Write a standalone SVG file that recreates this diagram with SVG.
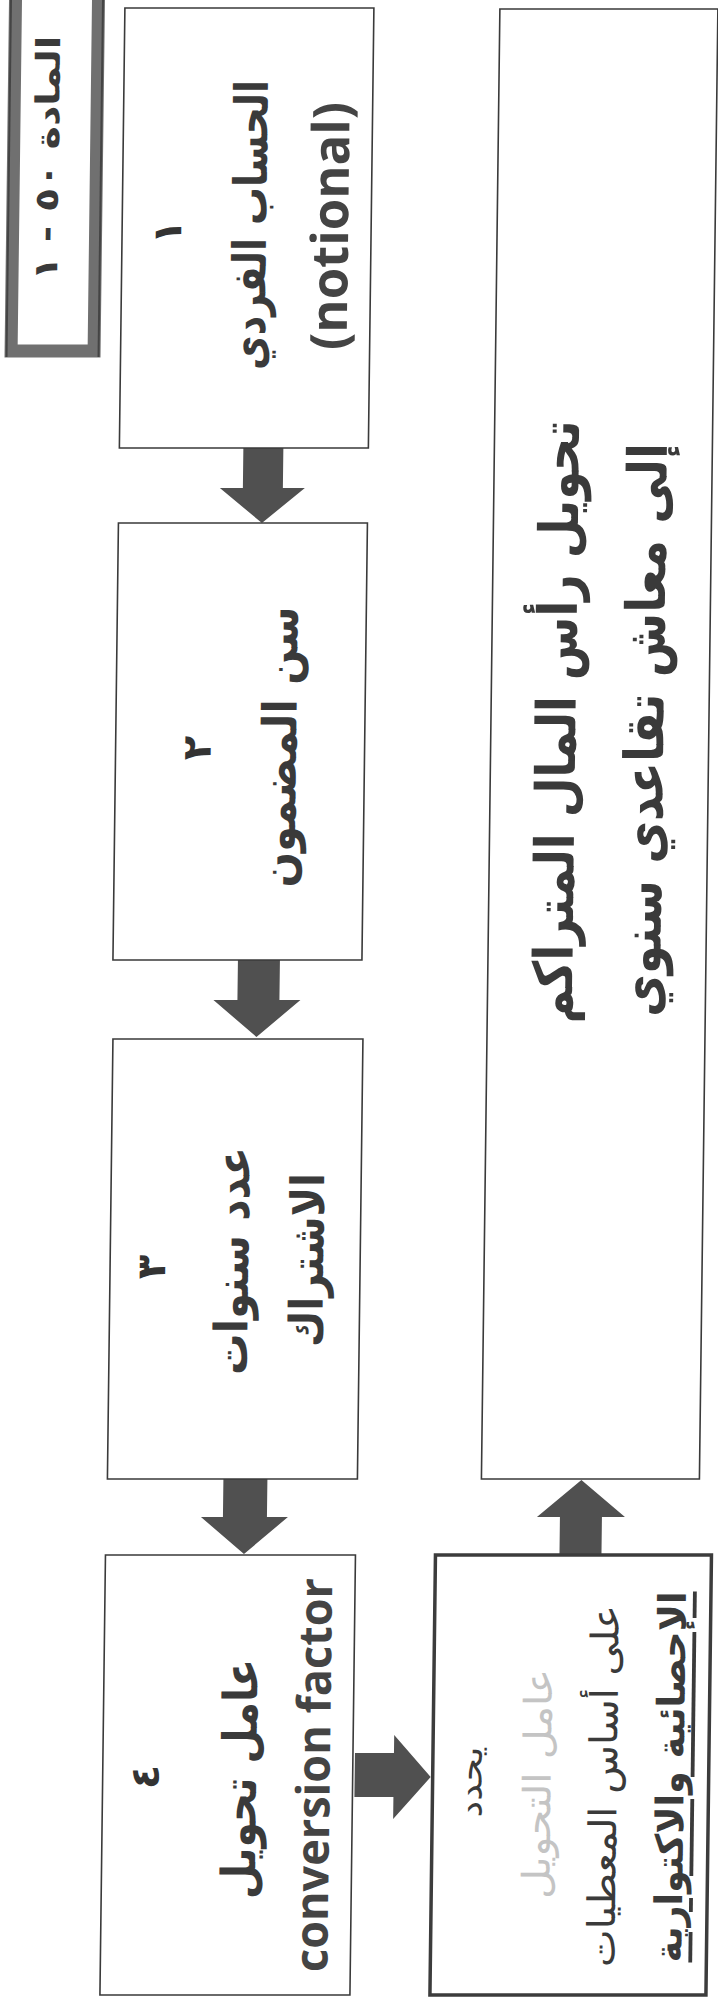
<svg xmlns="http://www.w3.org/2000/svg" width="718" height="2008" viewBox="0 0 718 2008">
  <style>
    .box{fill:#fff;stroke:#3a3a3a;stroke-width:1.6}
    .box5{fill:#fff;stroke:#3c3c3c;stroke-width:3.5}
    .frame{fill:#fff;stroke:#707070;stroke-width:13}
    .arrow{fill:#505050}
    .ar{font-family:"DejaVu Sans",sans-serif;font-weight:bold;fill:#3a3a3a;text-anchor:middle;dominant-baseline:central}
    .num{font-family:"DejaVu Sans",sans-serif;font-weight:bold;fill:#333;text-anchor:middle;dominant-baseline:central}
    .en{font-family:"Open Sans",sans-serif;font-weight:bold;fill:#444;text-anchor:middle;dominant-baseline:central}
    .plain{font-weight:normal}
    .pale{fill:#c4c4c4}
    .ul{text-decoration:underline}
  </style>
  <rect width="718" height="2008" fill="#fff"/>
  <!-- the sheet is laid out sideways: every label reads bottom-to-top -->
  <g transform="skewX(-0.72)">
    <g id="connectors">
      <path class="arrow" d="M249 448 H289 V488 H311 L268.5 523 L226 488 H249 Z"/>
      <path class="arrow" d="M250 960 H292 V1000 H313 L269.5 1037 L226 1000 H250 Z"/>
      <path class="arrow" d="M242 1479 H286 V1517 H307 L263.5 1554 L220 1517 H242 Z"/>
      <path class="arrow" d="M377 1753 H416 V1735 L453 1777 L416 1819 V1797 H377 Z"/>
      <path class="arrow" d="M579 1555 V1517 H556 L600 1480 L644 1517 H621 V1555 Z"/>
    </g>

    <g id="title">
      <rect class="frame" x="15.5" y="-10" width="83" height="361"/>
      <rect x="10" y="-10" width="2" height="367" fill="#444"/>
      <rect x="102" y="-10" width="2" height="367" fill="#444"/>
      <text class="ar" direction="rtl" font-size="33" textLength="245" lengthAdjust="spacingAndGlyphs" transform="translate(49 158) rotate(-90)">المادة ٥٠ - ١</text>
    </g>

    <g id="node1">
      <rect class="box" x="125" y="8" width="249" height="440"/>
      <text class="num" font-size="40" transform="translate(170 232) rotate(-90)">١</text>
      <text class="ar" direction="rtl" font-size="46" textLength="290" lengthAdjust="spacingAndGlyphs" transform="translate(253 225) rotate(-90)">الحساب الفردي</text>
      <text class="en" font-size="51" textLength="248" lengthAdjust="spacingAndGlyphs" transform="translate(331 226) rotate(-90)">(notional)</text>
    </g>

    <g id="node2">
      <rect class="box" x="125" y="523" width="249" height="437"/>
      <text class="num" font-size="40" transform="translate(206 748) rotate(-90)">٢</text>
      <text class="ar" direction="rtl" font-size="47" textLength="281" lengthAdjust="spacingAndGlyphs" transform="translate(289 747) rotate(-90)">سن المضمون</text>
    </g>

    <g id="node3">
      <rect class="box" x="126" y="1039" width="250" height="440"/>
      <text class="num" font-size="40" transform="translate(167 1267) rotate(-90)">٣</text>
      <text class="ar" direction="rtl" font-size="46" textLength="228" lengthAdjust="spacingAndGlyphs" transform="translate(248 1261) rotate(-90)">عدد سنوات</text>
      <text class="ar" direction="rtl" font-size="46" textLength="174" lengthAdjust="spacingAndGlyphs" transform="translate(323 1260) rotate(-90)">الاشتراك</text>
    </g>

    <g id="node4">
      <rect class="box" x="125" y="1555" width="250" height="440"/>
      <text class="num" font-size="40" transform="translate(167 1777) rotate(-90)">٤</text>
      <text class="ar" direction="rtl" font-size="47" textLength="240" lengthAdjust="spacingAndGlyphs" transform="translate(262 1779) rotate(-90)">عامل تحويل</text>
      <text class="en" font-size="46" textLength="394" lengthAdjust="spacingAndGlyphs" transform="translate(334 1775) rotate(-90)">conversion factor</text>
    </g>

    <g id="node5">
      <rect class="box5" x="455" y="1555" width="276" height="440"/>
      <text class="ar plain" direction="rtl" font-size="32" textLength="71" lengthAdjust="spacingAndGlyphs" transform="translate(493 1782) rotate(-90)">يحدد</text>
      <text class="ar plain pale" direction="rtl" font-size="38" textLength="230" lengthAdjust="spacingAndGlyphs" transform="translate(560 1784) rotate(-90)">عامل التحويل</text>
      <text class="ar plain" direction="rtl" font-size="38" textLength="362" lengthAdjust="spacingAndGlyphs" transform="translate(626 1786) rotate(-90)">على أساس المعطيات</text>
      <text class="ar ul" direction="rtl" font-size="38" textLength="371" lengthAdjust="spacingAndGlyphs" transform="translate(693 1777) rotate(-90)">الإحصائية والاكتوارية</text>
    </g>

    <g id="result">
      <rect class="box" x="500" y="9" width="218" height="1470"/>
      <text class="ar" direction="rtl" font-size="54" textLength="603" lengthAdjust="spacingAndGlyphs" transform="translate(566 722) rotate(-90)">تحويل رأس المال المتراكم</text>
      <text class="ar" direction="rtl" font-size="54" textLength="574" lengthAdjust="spacingAndGlyphs" transform="translate(654 730) rotate(-90)">إلى معاش تقاعدي سنوي</text>
    </g>
  </g>
</svg>
